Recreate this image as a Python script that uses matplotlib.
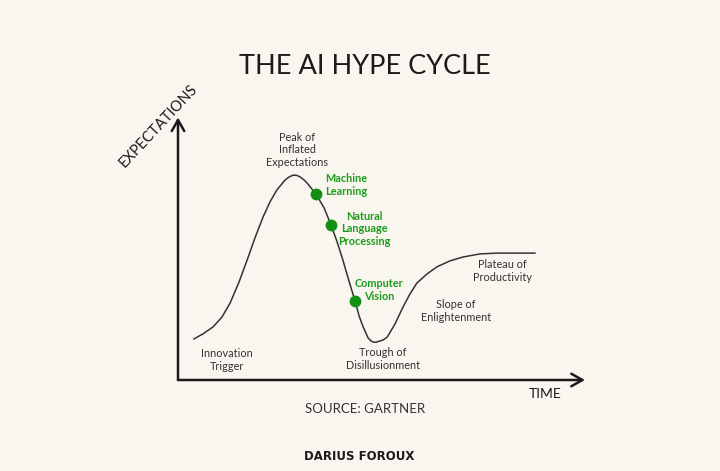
import matplotlib
matplotlib.use('Agg')
import matplotlib.pyplot as plt

# hype curve (time, expectations) on 0-100 scales
time = [3.9, 6.1, 8.6, 10.8, 12.8, 15.0, 17.0, 18.9, 20.9, 22.6, 24.3, 26.3, 27.3, 28.3,
        29.2, 30.0, 31.0, 31.7, 33.9, 35.9, 37.6, 39.1, 40.5, 42.0, 43.5, 44.5, 45.5,
        46.7, 47.3, 47.9, 48.6, 49.6, 50.4, 51.4, 53.3, 55.3, 57.0, 58.7, 61.2, 63.6,
        66.8, 70.0, 74.2, 78.4, 82.8, 87.7]
expect = [15.8, 17.7, 20.4, 24.2, 29.6, 37.7, 46.2, 54.6, 62.7, 68.5, 73.1, 76.9, 78.1, 78.8,
          78.7, 78.1, 76.9, 75.8, 71.5, 66.2, 59.6, 53.1, 46.2, 38.1, 30.4, 24.6, 20.4,
          16.2, 15.2, 14.6, 14.5, 15.0, 15.4, 16.5, 21.5, 28.1, 33.1, 37.3, 40.8, 43.5,
          45.8, 47.3, 48.5, 48.8, 48.8, 48.8]

# AI technologies placed on the curve
tech = ['Machine\nLearning', 'Natural\nLanguage\nProcessing', 'Computer\nVision']
tech_x = [33.9, 37.6, 43.5]
tech_y = [71.5, 59.6, 30.4]

# phase names
phases = ['Innovation\nTrigger', 'Peak of\nInflated\nExpectations', 'Trough of\nDisillusionment',
          'Slope of\nEnlightenment', 'Plateau of\nProductivity']

bg = '#f9f6ef'
green = '#1c9c1c'
ink = '#1a1a1a'

fig = plt.figure(figsize=(7.2, 4.71), dpi=100, facecolor=bg)
ax = fig.add_axes([178/720, 91/471, 407/720, 260/471])
ax.set_facecolor(bg)
ax.set_xlim(0, 100)
ax.set_ylim(0, 100)
ax.axis('off')

def px(x, y):
    # pixel position of the reference -> figure fraction
    return x/720, 1 - y/471

# curve and dots
ax.plot(time, expect, color='#333333', lw=1.1, clip_on=False, solid_joinstyle='round')
ax.plot(tech_x, tech_y, 'o', color='#119011', ms=7.5, clip_on=False, zorder=3)

# axes arrows
arrow = dict(arrowstyle='->,head_length=0.8,head_width=0.45', lw=1.8, color=ink,
             shrinkA=0, shrinkB=0)
ax.annotate('', xy=(0, 1.01), xytext=(0, 0), xycoords='axes fraction', arrowprops=arrow)
ax.annotate('', xy=(1.0, 0), xytext=(0, 0), xycoords='axes fraction', arrowprops=arrow)

lab = dict(fontsize=7.8, family='Lato', ha='center', va='center', linespacing=1.2)

# technology labels
tech_pos = [(346, 185), (364, 229), (379, 290)]
for t, (x, y) in zip(tech, tech_pos):
    fig.text(*px(x, y), t, color=green, fontweight='bold', **lab)

# phase labels
phase_pos = [(227, 360), (297, 150), (383, 359), (456, 311), (502, 271)]
for t, (x, y) in zip(phases, phase_pos):
    fig.text(*px(x, y), t, color='#333333', **lab)

# titles and axis names
fig.text(*px(365, 67), 'THE AI HYPE CYCLE', fontsize=19.5, ha='center', va='center',
         color=ink, family='Lato')
fig.text(*px(158, 126), 'EXPECTATIONS', fontsize=10.5, rotation=47, ha='center', va='center',
         color=ink, family='Lato')
fig.text(*px(545, 394), 'TIME', fontsize=10, ha='center', va='center', color=ink,
         family='Lato')
fig.text(*px(365, 409), 'SOURCE: GARTNER', fontsize=9.5, ha='center', va='center',
         color='#333333', family='Lato')
fig.text(*px(359, 457), 'DARIUS FOROUX', fontsize=8.5, ha='center', va='center', color=ink,
         fontweight='bold', family='DejaVu Sans')

fig.savefig('out.png', dpi=100, facecolor=bg)
